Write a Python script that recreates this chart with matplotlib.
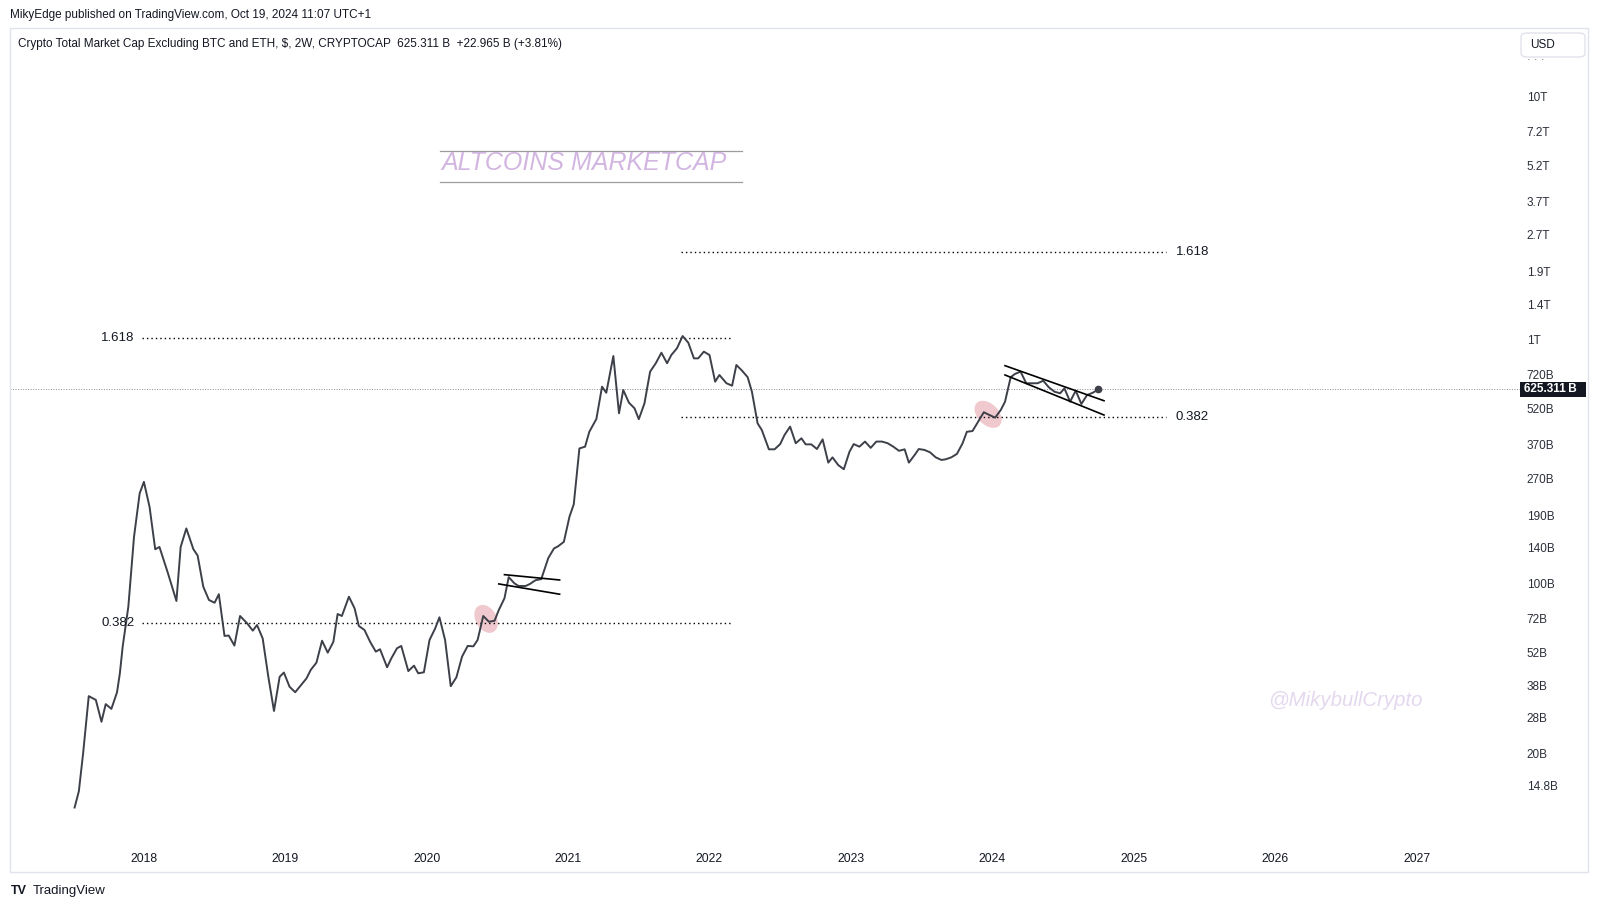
import numpy as np
import matplotlib
matplotlib.use("Agg")
from matplotlib import pyplot as plt
from matplotlib.patches import Rectangle, Ellipse, FancyBboxPatch
from matplotlib.lines import Line2D
from matplotlib.ticker import NullLocator
from matplotlib.transforms import ScaledTranslation, blended_transform_factory

plt.rcParams['font.family'] = ['Liberation Sans', 'DejaVu Sans']

# 2W closes of TOTAL3 (billions USD)
dates = [2017.51, 2017.54, 2017.57, 2017.61, 2017.66, 2017.70, 2017.73, 2017.77, 2017.81, 2017.83,
         2017.85, 2017.89, 2017.93, 2017.97, 2018.00, 2018.04, 2018.08, 2018.11, 2018.17, 2018.23,
         2018.26, 2018.30, 2018.35, 2018.38, 2018.42, 2018.46, 2018.50, 2018.53, 2018.57, 2018.60,
         2018.64, 2018.68, 2018.73, 2018.77, 2018.80, 2018.84, 2018.88, 2018.92, 2018.96, 2018.99,
         2019.03, 2019.07, 2019.11, 2019.15, 2019.18, 2019.22, 2019.26, 2019.30, 2019.34, 2019.37,
         2019.40, 2019.45, 2019.49, 2019.52, 2019.56, 2019.60, 2019.64, 2019.67, 2019.72, 2019.75,
         2019.79, 2019.82, 2019.87, 2019.91, 2019.94, 2019.98, 2020.02, 2020.06, 2020.09, 2020.13,
         2020.17, 2020.21, 2020.25, 2020.29, 2020.33, 2020.36, 2020.40, 2020.44, 2020.48, 2020.51,
         2020.55, 2020.58, 2020.62, 2020.65, 2020.70, 2020.73, 2020.77, 2020.81, 2020.86, 2020.90,
         2020.93, 2020.97, 2021.01, 2021.04, 2021.08, 2021.12, 2021.15, 2021.20, 2021.24, 2021.27,
         2021.32, 2021.36, 2021.39, 2021.43, 2021.47, 2021.50, 2021.54, 2021.58, 2021.62, 2021.66,
         2021.70, 2021.73, 2021.77, 2021.81, 2021.85, 2021.89, 2021.92, 2021.96, 2022.00, 2022.04,
         2022.07, 2022.12, 2022.16, 2022.19, 2022.23, 2022.27, 2022.30, 2022.34, 2022.37, 2022.42,
         2022.46, 2022.50, 2022.53, 2022.57, 2022.61, 2022.65, 2022.68, 2022.72, 2022.76, 2022.80,
         2022.84, 2022.87, 2022.91, 2022.95, 2022.99, 2023.02, 2023.06, 2023.10, 2023.14, 2023.18,
         2023.22, 2023.26, 2023.30, 2023.34, 2023.38, 2023.41, 2023.45, 2023.48, 2023.52, 2023.56,
         2023.60, 2023.64, 2023.67, 2023.71, 2023.75, 2023.79, 2023.82, 2023.86, 2023.89, 2023.94,
         2023.98, 2024.02, 2024.06, 2024.09, 2024.13, 2024.16, 2024.20, 2024.24, 2024.28, 2024.32,
         2024.36, 2024.40, 2024.44, 2024.48, 2024.51, 2024.55, 2024.59, 2024.63, 2024.67, 2024.71,
         2024.75]
values = [12.0, 14.0, 20.0, 34.4, 33.2, 27.0, 31.9, 30.5, 35.7, 42.7,
          55.0, 80.2, 155, 234, 261, 206, 138, 141, 110, 84.6,
          141, 168, 138, 130, 96.8, 85.4, 83.2, 90.2, 60.8, 61.0,
          55.5, 73.4, 68.5, 63.9, 67.4, 59.4, 41.3, 29.9, 41.3, 43.0,
          37.6, 35.7, 38.1, 40.7, 44.1, 47.2, 58.1, 51.9, 57.5, 74.8,
          73.4, 88.1, 78.9, 66.8, 64.3, 57.5, 52.4, 53.6, 45.2, 49.2,
          54.1, 55.3, 43.6, 45.9, 42.7, 43.1, 58.5, 65.3, 72.5, 58.5,
          37.8, 41.1, 50.0, 55.3, 55.1, 58.5, 73.4, 69.5, 70.2, 77.7,
          86.8, 106, 100, 97.5, 97.5, 99.4, 103, 104, 127, 139,
          142, 148, 188, 211, 358, 364, 419, 473, 642, 606,
          858, 499, 622, 552, 523, 472, 548, 740, 801, 885,
          801, 866, 923, 1036, 973, 839, 839, 894, 866, 673,
          717, 663, 648, 788, 747, 702, 612, 454, 426, 355,
          355, 373, 406, 440, 376, 394, 372, 372, 356, 390,
          313, 329, 306, 294, 347, 373, 364, 382, 360, 382,
          382, 376, 364, 350, 355, 313, 336, 356, 353, 345,
          329, 321, 323, 329, 340, 376, 419, 422, 451, 504,
          491, 479, 515, 557, 702, 724, 740, 663, 663, 663,
          679, 638, 612, 603, 632, 557, 618, 545, 593, 606,
          625.311]

# fib levels drawn on the chart
fib_names = ["1.618", "0.382", "1.618", "0.382"]
fib_values = [1020, 68.4, 2294, 481]
fib_start = [2017.99, 2017.99, 2021.80, 2021.80]
fib_end = [2022.16, 2022.16, 2025.23, 2025.23]
fib_side = ["left", "left", "right", "right"]

# flag channels
flag_dates = [[2020.55, 2020.94], [2020.51, 2020.94], [2024.09, 2024.79], [2024.09, 2024.79]]
flag_values = [[108.5, 103.2], [99.4, 90.2], [783, 562], [717, 491]]

# retest highlights
highlight_dates = [2020.42, 2023.97]
highlight_shape = [(0.30, 0.21, -60), (0.32, 0.21, -45)]

year_ticks = [2018, 2019, 2020, 2021, 2022, 2023, 2024, 2025, 2026, 2027]
price_ticks = [10000, 7200, 5200, 3700, 2700, 1900, 1400, 1000, 720, 520, 370,
               270, 190, 140, 100, 72, 52, 38, 28, 20, 14.8]
price_labels = ["10T", "7.2T", "5.2T", "3.7T", "2.7T", "1.9T", "1.4T", "1T",
                "720B", "520B", "370B", "270B", "190B", "140B", "100B",
                "72B", "52B", "38B", "28B", "20B", "14.8B"]

W, H = 1600, 909
TXT = '#131722'
LINE = '#3d4049'

def fx(px):
    return px / W

def fy(py):
    return 1 - py / H

# pixel calibration of the original chart
def px_to_year(px):
    return 2018 + (px - 143.9) / 141.4

def py_to_price(py):
    return 1000 * 10 ** ((339.8 - py) / 243.5)

fig = plt.figure(figsize=(16, 9.09), dpi=100)
fig.patch.set_facecolor('white')

left, top, right, bottom = 10, 30, 1490, 845
ax = fig.add_axes([fx(left), fy(bottom), (right - left) / W, (bottom - top) / H])
ax.set_yscale('log')
ax.set_xlim(px_to_year(left), px_to_year(right))
ax.set_ylim(py_to_price(bottom), py_to_price(top))
for s in ax.spines.values():
    s.set_visible(False)

# highlights behind the line
for d, (w, h, ang) in zip(highlight_dates, highlight_shape):
    p = 10 ** np.interp(d, dates, np.log10(values))
    tr = fig.dpi_scale_trans + ScaledTranslation(d, p, ax.transData)
    ax.add_patch(Ellipse((0, 0), w, h, angle=ang, transform=tr,
                         fc='#efc4c9', ec='none', alpha=0.9, zorder=1))

ax.plot(dates, values, color=LINE, lw=1.4, zorder=3, solid_joinstyle='round')
ax.plot(dates[-1], values[-1], 'o', color=LINE, ms=4.5, zorder=4)

for fd, fv in zip(flag_dates, flag_values):
    ax.plot(fd, fv, color='black', lw=1.2, zorder=4)

for name, v, x0, x1, side in zip(fib_names, fib_values, fib_start, fib_end, fib_side):
    ax.plot([x0, x1], [v, v], color='black', lw=1.0, ls=(0, (1, 2.2)), zorder=2)
    if side == "left":
        ax.annotate(name, (x0, v), xytext=(-6, 0), textcoords='offset points',
                    ha='right', va='center', fontsize=9.5, color=TXT)
    else:
        ax.annotate(name, (x1, v), xytext=(7, 0), textcoords='offset points',
                    ha='left', va='center', fontsize=9.5, color=TXT)

# last price line
ax.axhline(values[-1], xmin=0, xmax=(1520 - left) / (right - left), color='#8a8d95',
           lw=0.7, ls=(0, (1, 1.6)), clip_on=False, zorder=2)

ax.set_xticks(year_ticks)
ax.set_xticklabels([str(y) for y in year_ticks])
ax.tick_params(axis='x', length=0, pad=6, labelsize=8.8, labelcolor=TXT)
ax.yaxis.tick_right()
ax.set_yticks(price_ticks)
ax.set_yticklabels(price_labels)
ax.yaxis.set_minor_locator(NullLocator())
ax.tick_params(axis='y', length=0, pad=26.5, labelsize=8.5, labelcolor='#2a2e39')
for lab in ax.get_yticklabels():
    lab.set_ha('left')

# last price tag
anchor = blended_transform_factory(fig.transFigure, ax.transData)
tag_tr = fig.dpi_scale_trans + ScaledTranslation(fx(1520), values[-1], anchor)
fig.add_artist(Rectangle((0, -0.073), 0.655, 0.146, transform=tag_tr,
                         fc='#131722', ec='none'))
fig.text(0.045, 0, "625.311\u2009B", transform=tag_tr, color='white', fontsize=8.5,
         fontweight='bold', va='center', ha='left')

# pane frame and header
fig.add_artist(Rectangle((fx(10), fy(872)), 1578 / W, (872 - 28) / H,
                         transform=fig.transFigure, fill=False, ec='#e0e3eb', lw=1))
fig.text(fx(10), fy(15.3), "MikyEdge published on TradingView.com, Oct 19, 2024 11:07 UTC+1",
         fontsize=8.5, color=TXT, va='center')
fig.text(fx(18.4), fy(43.9),
         r"Crypto Total Market Cap Excluding BTC and ETH, \$, 2W, CRYPTOCAP  625.311 B  +22.965 B (+3.81%)",
         fontsize=8.5, color=TXT, va='center')
fig.add_artist(FancyBboxPatch((fx(1521), fy(57)), 64 / W, 24 / H,
                              boxstyle='round,pad=0,rounding_size=0.004',
                              transform=fig.transFigure, fc='white', ec='#e0e3eb', lw=1))
fig.text(fx(1530), fy(44.5), "USD", fontsize=8.5, color=TXT, va='center')
fig.text(fx(1527), fy(60), "\u00b7 \u00b7 \u00b7", fontsize=8, color='#555', va='center')

# drawn title
fig.text(fx(441), fy(163.5), "ALTCOINS MARKETCAP", fontsize=18, style='italic',
         color='#d2b6e1', va='center', ha='left')
for yy in [151, 182.3]:
    fig.add_artist(Line2D([fx(440), fx(742)], [fy(yy), fy(yy)], color='#9c9c9c', lw=0.9))

fig.text(fx(1268), fy(701), "@MikybullCrypto", fontsize=14.7, style='italic',
         color='#e4d8ee', va='center', ha='left')

# footer
fig.text(fx(11), fy(891), "TV", fontsize=9, fontweight='bold', color=TXT, va='center')
fig.text(fx(33), fy(891), "TradingView", fontsize=9.5, color=TXT, va='center')

fig.savefig('out.png', dpi=100, facecolor='white')
